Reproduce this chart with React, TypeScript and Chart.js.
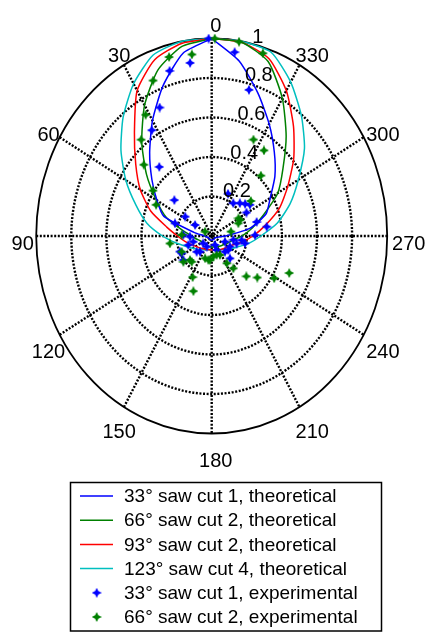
import React, { useEffect, useRef } from "react";
import { Chart, registerables } from "chart.js";

Chart.register(...registerables);

// Polar angle grid (degrees, counter-clockwise from the top) for theoretical curves
const THETA_DEG = [
  0, 10, 20, 30, 40, 50, 60, 70, 80, 90, 100, 110, 120, 130, 140, 150, 160, 170, 180,
  190, 200, 210, 220, 230, 240, 250, 260, 270, 280, 290, 300, 310, 320, 330, 340, 350, 360,
];

// Normalised theoretical radiation patterns
const R_33_THEORY = [
  1.0, 0.94, 0.81, 0.675, 0.55, 0.445, 0.36, 0.29, 0.1, 0.04, 0.03, 0.02, 0.02, 0.02, 0.02, 0.02, 0.02, 0.02, 0.02,
  0.02, 0.02, 0.02, 0.02, 0.02, 0.02, 0.025, 0.035, 0.08, 0.22, 0.33, 0.385, 0.47, 0.555, 0.655, 0.77, 0.9, 1.0,
];
const R_66_THEORY = [
  1.0, 0.975, 0.895, 0.765, 0.62, 0.485, 0.365, 0.275, 0.17, 0.115, 0.088, 0.07, 0.062, 0.058, 0.056, 0.055, 0.055, 0.055, 0.055,
  0.056, 0.058, 0.062, 0.068, 0.075, 0.085, 0.1, 0.122, 0.172, 0.235, 0.315, 0.435, 0.53, 0.66, 0.805, 0.94, 0.995, 1.0,
];
const R_93_THEORY = [
  1.0, 0.99, 0.95, 0.85, 0.685, 0.565, 0.47, 0.37, 0.26, 0.195, 0.155, 0.125, 0.105, 0.092, 0.083, 0.077, 0.073, 0.071, 0.071,
  0.072, 0.075, 0.08, 0.088, 0.097, 0.108, 0.13, 0.175, 0.235, 0.31, 0.41, 0.5, 0.61, 0.725, 0.85, 0.955, 0.995, 1.0,
];
const R_123_THEORY = [
  1.0, 1.0, 0.975, 0.89, 0.785, 0.675, 0.565, 0.46, 0.375, 0.28, 0.205, 0.155, 0.125, 0.105, 0.09, 0.08, 0.075, 0.072, 0.071,
  0.072, 0.075, 0.08, 0.09, 0.105, 0.128, 0.16, 0.215, 0.28, 0.38, 0.475, 0.57, 0.69, 0.795, 0.9, 0.99, 1.0, 1.0,
];

// Measured points, 33° saw cut 1
const EXP33_THETA = [
  1, 352, 344, 8, 16, 24.5, 32.5, 40.5, 49.5, 57, 336.5, 323.5, 310.5, 301, 59.5, 285.5, 278.5, 271, 259, 255, 242.5,
  223.5, 201.5, 152.5, 140, 105.5, 109, 127, 113.5, 91.5, 127.5, 202.5, 249, 233, 222.5, 261, 263, 316, 306, 133, 117, 73, 88,
];
const EXP33_R = [
  1.0, 0.94, 0.77, 0.885, 0.87, 0.715, 0.635, 0.46, 0.28, 0.18, 0.233, 0.207, 0.25, 0.231, 0.11, 0.266, 0.317, 0.247, 0.193, 0.147, 0.117,
  0.11, 0.076, 0.061, 0.104, 0.109, 0.141, 0.202, 0.198, 0.124, 0.061, 0.049, 0.081, 0.118, 0.154, 0.125, 0.172, 0.231, 0.269, 0.117, 0.192, 0.219, 0.162,
];

// Measured points, 66° saw cut 2
const EXP66_THETA = [
  359, 351, 342.5, 7, 15, 23, 31.5, 39.5, 47, 55.5, 63.5, 334, 325.5, 317.5, 308.5, 300.5, 60, 281.5, 293, 115,
  139, 129, 185, 206, 175.5, 212, 217, 152.5, 159.5, 224, 231, 239, 247, 171, 161.5, 196.5, 99, 296.5, 88, 134.5,
];
const EXP66_R = [
  1.0, 0.996, 0.97, 0.926, 0.938, 0.855, 0.72, 0.632, 0.529, 0.406, 0.354, 0.543, 0.526, 0.415, 0.285, 0.177, 0.044, 0.112, 0.165, 0.189,
  0.173, 0.208, 0.105, 0.107, 0.122, 0.163, 0.205, 0.235, 0.298, 0.284, 0.334, 0.415, 0.48, 0.123, 0.119, 0.1, 0.241, 0.18, 0.171, 0.173,
];

const ANGLE_TICKS = [0, 30, 60, 90, 120, 150, 180, 210, 240, 270, 300, 330];
const RING_TICKS = [0.2, 0.4, 0.6, 0.8, 1];
const RING_LABELS = ["0.2", "0.4", "0.6", "0.8", "1"];

const SERIES_LABELS = [
  "33° saw cut 1, theoretical",
  "66° saw cut 2, theoretical",
  "93° saw cut 2, theoretical",
  "123° saw cut 4, theoretical",
  "33° saw cut 1, experimental",
  "66° saw cut 2, experimental",
];

const FONT = '"Liberation Sans", Arial, Helvetica, sans-serif';
const W = 428;
const H = 632;

function polarToXY(thetaDeg: number, r: number) {
  const a = (thetaDeg * Math.PI) / 180;
  return { x: -r * Math.sin(a), y: r * Math.cos(a) };
}

function toPoints(thetas: number[], radii: number[]) {
  return thetas.map((t, i) => polarToXY(t, radii[i]));
}

// Four-pointed star marker
function makeStar(color: string, size = 10) {
  const c = document.createElement("canvas");
  c.width = size;
  c.height = size;
  const g = c.getContext("2d")!;
  const h = size / 2;
  const inner = 2.3;
  g.beginPath();
  for (let i = 0; i < 8; i++) {
    const ang = (i * Math.PI) / 4;
    const rr = i % 2 === 0 ? h : inner;
    g.lineTo(h + rr * Math.sin(ang), h - rr * Math.cos(ang));
  }
  g.closePath();
  g.fillStyle = color;
  g.fill();
  return c;
}

export default function App() {
  const ref = useRef<HTMLCanvasElement>(null);

  useEffect(() => {
    const canvas = ref.current;
    if (!canvas) return;

    const blueStar = makeStar("#0000ff");
    const greenStar = makeStar("#008000");

    const lineColors = ["#0000ff", "#008000", "#ff0000", "#00bfbf"];
    const theory = [R_33_THEORY, R_66_THEORY, R_93_THEORY, R_123_THEORY];

    const legendEntries: { label: string; color: string; img?: HTMLCanvasElement }[] = [
      { label: SERIES_LABELS[0], color: lineColors[0] },
      { label: SERIES_LABELS[1], color: lineColors[1] },
      { label: SERIES_LABELS[2], color: lineColors[2] },
      { label: SERIES_LABELS[3], color: lineColors[3] },
      { label: SERIES_LABELS[4], color: "#0000ff", img: blueStar },
      { label: SERIES_LABELS[5], color: "#008000", img: greenStar },
    ];

    const datasets: any[] = [
      {
        label: SERIES_LABELS[5],
        data: toPoints(EXP66_THETA, EXP66_R),
        pointStyle: greenStar,
        pointRadius: 5,
        showLine: false,
        order: 0,
        clip: false,
      },
      {
        label: SERIES_LABELS[4],
        data: toPoints(EXP33_THETA, EXP33_R),
        pointStyle: blueStar,
        pointRadius: 5,
        showLine: false,
        order: 1,
        clip: false,
      },
    ];
    theory.forEach((r, i) => {
      datasets.push({
        label: SERIES_LABELS[i],
        data: toPoints(THETA_DEG, r),
        showLine: true,
        pointRadius: 0,
        borderColor: lineColors[i],
        borderWidth: 1.5,
        tension: 0.2,
        fill: false,
        order: 2 + i,
        clip: false,
      });
    });

    const polarFrame = {
      id: "polarFrame",
      beforeDatasetsDraw(chart: any) {
        const { ctx, scales } = chart;
        const xs = scales.x;
        const ys = scales.y;
        const px = (p: { x: number; y: number }) => ({ x: xs.getPixelForValue(p.x), y: ys.getPixelForValue(p.y) });
        const cx = xs.getPixelForValue(0);
        const cy = ys.getPixelForValue(0);
        ctx.save();
        ctx.strokeStyle = "#000";
        // dotted rings
        ctx.lineWidth = 2.4;
        ctx.setLineDash([2, 1.6]);
        RING_TICKS.filter((r) => r < 1).forEach((r) => {
          ctx.beginPath();
          ctx.ellipse(cx, cy, xs.getPixelForValue(r) - cx, cy - ys.getPixelForValue(r), 0, 0, Math.PI * 2);
          ctx.stroke();
        });
        // dotted spokes
        ANGLE_TICKS.filter((a) => a < 180).forEach((a) => {
          const p1 = px(polarToXY(a, 1));
          const p2 = px(polarToXY(a + 180, 1));
          ctx.beginPath();
          ctx.moveTo(p1.x, p1.y);
          ctx.lineTo(p2.x, p2.y);
          ctx.stroke();
        });
        // solid outer rim
        ctx.setLineDash([]);
        ctx.lineWidth = 1.8;
        ctx.beginPath();
        ctx.ellipse(cx, cy, xs.getPixelForValue(1) - cx, cy - ys.getPixelForValue(1), 0, 0, Math.PI * 2);
        ctx.stroke();
        ctx.restore();
      },
      afterDraw(chart: any) {
        const { ctx, scales } = chart;
        const xs = scales.x;
        const ys = scales.y;
        const cx = xs.getPixelForValue(0);
        const cy = ys.getPixelForValue(0);
        const rx = xs.getPixelForValue(1) - cx;
        const ry = cy - ys.getPixelForValue(1);
        ctx.save();
        ctx.fillStyle = "#000";
        ctx.font = `20px ${FONT}`;
        // angle labels
        ctx.textAlign = "center";
        ctx.textBaseline = "alphabetic";
        ANGLE_TICKS.forEach((a) => {
          const p = polarToXY(a, 1.1);
          const x = cx + p.x * rx + 4;
          const y = cy - p.y * ry + 6.5 + 7.2;
          ctx.fillText(String(a), x, y);
        });
        // radial labels
        ctx.textAlign = "left";
        const la = (12 * Math.PI) / 180;
        RING_TICKS.forEach((r, i) => {
          const x = cx + r * rx * Math.sin(la) + 4;
          const y = cy - r * ry * Math.cos(la);
          ctx.fillText(RING_LABELS[i], x, y);
        });

        // legend box
        const bx = 70.5, by = 482.5, bw = 311, bh = 148.5;
        ctx.fillStyle = "#fff";
        ctx.fillRect(bx, by, bw, bh);
        ctx.strokeStyle = "#000";
        ctx.lineWidth = 1.5;
        ctx.strokeRect(bx, by, bw, bh);
        ctx.font = `19px ${FONT}`;
        ctx.textBaseline = "middle";
        legendEntries.forEach((e, i) => {
          const yy = 496 + i * 24.2;
          if (e.img) {
            ctx.drawImage(e.img, 96.7 - e.img.width / 2, yy - e.img.height / 2);
          } else {
            ctx.strokeStyle = e.color;
            ctx.lineWidth = 1.5;
            ctx.beginPath();
            ctx.moveTo(80, yy);
            ctx.lineTo(113, yy);
            ctx.stroke();
          }
          ctx.fillStyle = "#000";
          ctx.fillText(e.label, 124, yy + 1);
        });
        ctx.restore();
      },
    };

    const chart = new Chart(canvas, {
      type: "scatter",
      data: { datasets },
      options: {
        responsive: false,
        animation: false,
        devicePixelRatio: 1,
        events: [],
        layout: { padding: { left: 36.2, right: 40.8, top: 38.5, bottom: 198.5 } },
        scales: {
          x: { type: "linear", min: -1, max: 1, display: false },
          y: { type: "linear", min: -1, max: 1, display: false },
        },
        plugins: { legend: { display: false }, tooltip: { enabled: false } },
      },
      plugins: [polarFrame],
    });

    return () => chart.destroy();
  }, []);

  return (
    <div style={{ position: "absolute", left: 0, top: 0, width: W, height: H, background: "#fff" }}>
      <canvas ref={ref} width={W} height={H} style={{ display: "block", width: W, height: H }} />
    </div>
  );
}
